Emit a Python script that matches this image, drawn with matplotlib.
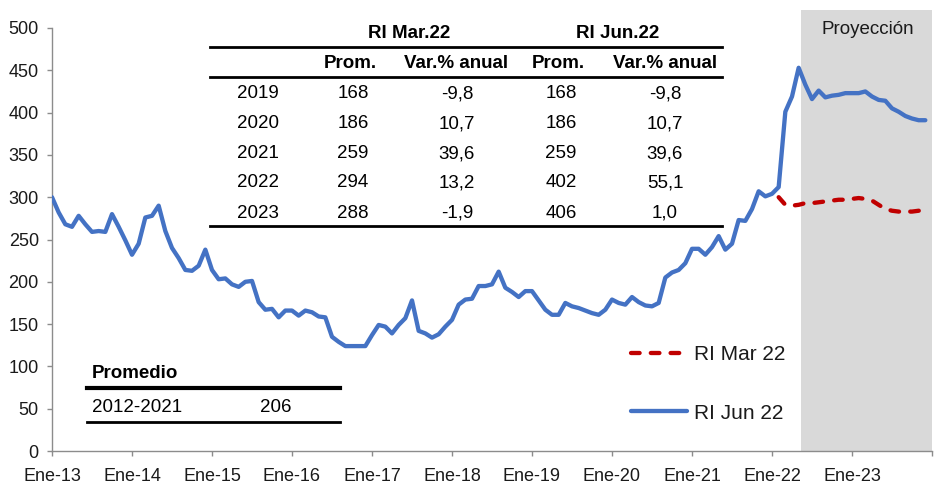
import matplotlib
matplotlib.use("Agg")
import matplotlib.pyplot as plt
from matplotlib.lines import Line2D
import numpy as np

plt.rcParams['font.family'] = ['Liberation Sans', 'DejaVu Sans']

# ---------------- data ----------------
tick_labels = ["Ene-13", "Ene-14", "Ene-15", "Ene-16", "Ene-17", "Ene-18",
               "Ene-19", "Ene-20", "Ene-21", "Ene-22", "Ene-23"]

# RI Jun 22: monthly, Jan-2013 .. Dec-2023
ri_jun = [
    300, 282, 268, 265, 278, 268, 259, 260, 259, 280, 265, 249,   # 2013
    232, 245, 276, 278, 290, 260, 240, 228, 214, 213, 219, 238,   # 2014
    214, 203, 204, 197, 194, 200, 201, 176, 167, 168, 158, 166,   # 2015
    166, 160, 166, 164, 159, 158, 135, 129, 124, 124, 124, 124,   # 2016
    137, 149, 147, 139, 149, 157, 178, 142, 139, 134, 138, 147,   # 2017
    155, 173, 179, 180, 195, 195, 197, 212, 193, 188, 182, 189,   # 2018
    189, 178, 167, 161, 161, 175, 171, 169, 166, 163, 161, 167,   # 2019
    179, 175, 173, 182, 176, 172, 171, 175, 205, 211, 214, 222,   # 2020
    239, 239, 232, 241, 254, 238, 245, 273, 272, 286, 307, 301,   # 2021
    304, 312, 401, 419, 453, 433, 416, 426, 418, 420, 421, 423,   # 2022
    423, 423, 425, 419, 415, 414, 405, 401, 396, 393, 391, 391,   # 2023
]
# RI Mar 22: projection, Feb-2022 .. Dec-2023
ri_mar_start = 109
ri_mar = [300, 291, 290, 291, 293, 293, 294, 295, 296, 297, 297,
          298, 299, 298, 296, 291, 286, 284, 283, 283, 283, 284, 285]

proj_start = 112.3   # start of projection shading (months since Jan-13)

# table
table_years = ["2019", "2020", "2021", "2022", "2023"]
mar_prom = ["168", "186", "259", "294", "288"]
mar_var = ["-9,8", "10,7", "39,6", "13,2", "-1,9"]
jun_prom = ["168", "186", "259", "402", "406"]
jun_var = ["-9,8", "10,7", "39,6", "55,1", "1,0"]
prom_period = "2012-2021"
prom_value = "206"

# ---------------- figure ----------------
W, H = 935, 483
fig = plt.figure(figsize=(W / 100, H / 100), dpi=100)
ax = fig.add_axes([52 / W, 1 - 451 / H, (932 - 52) / W, (451 - 28) / H])

def fx(px):
    return px / W

def fy(py):
    return 1 - py / H

x_jun = np.arange(len(ri_jun))
x_mar = np.arange(ri_mar_start, ri_mar_start + len(ri_mar))

ax.axvspan(proj_start, 132, ymin=0, ymax=(451 - 10) / (451 - 28),
           color='#D9D9D9', zorder=0, clip_on=False, lw=0)

blue, = ax.plot(x_jun, ri_jun, color='#4472C4', lw=3.1, zorder=3,
                solid_joinstyle='round', solid_capstyle='round', label='RI Jun 22')
red, = ax.plot(x_mar, ri_mar, color='#C00000', lw=3.1, zorder=4,
               dashes=(2.0, 2.6), dash_capstyle='round', label='RI Mar 22')

ax.set_xlim(0, 132)
ax.set_ylim(0, 500)
ax.set_yticks(np.arange(0, 501, 50))
ax.set_xticks(np.arange(0, 133, 12))
ax.set_xticklabels(tick_labels + [""])
for s in ['top', 'right']:
    ax.spines[s].set_visible(False)
for s in ['left', 'bottom']:
    ax.spines[s].set_color('#8C8C8C')
    ax.spines[s].set_linewidth(1.0)
ax.tick_params(axis='both', colors='#8C8C8C', labelcolor='#1A1A1A',
               labelsize=13, direction='out', length=3.5, width=1.0)
ax.tick_params(axis='y', pad=6)
ax.tick_params(axis='x', pad=8.5)

fig.text(fx(868), fy(30), "Proyección", ha='center', va='center',
         fontsize=13.5, color='#1A1A1A')

leg = ax.legend(handles=[red, blue], loc='upper left', frameon=False,
                bbox_to_anchor=(fx(631), fy(345)), bbox_transform=fig.transFigure,
                fontsize=15, handlelength=2.7, handletextpad=0.3,
                labelspacing=1.9, borderpad=0, borderaxespad=0)
for t in leg.get_texts():
    t.set_color('#1A1A1A')

# ---------------- table ----------------
tcol = '#000000'
fs = 13.5
def hline(y, x0, x1, lw):
    fig.add_artist(Line2D([fx(x0), fx(x1)], [fy(y), fy(y)], color='black',
                          lw=lw, transform=fig.transFigure))

fig.text(fx(409), fy(33), "RI Mar.22", ha='center', va='center', fontsize=fs,
         fontweight='bold', color=tcol)
fig.text(fx(618), fy(33), "RI Jun.22", ha='center', va='center', fontsize=fs,
         fontweight='bold', color=tcol)
hline(47, 210, 722, 2.0)
for cx, lab in [(350, "Prom."), (456, "Var.% anual"), (558, "Prom."), (665, "Var.% anual")]:
    fig.text(fx(cx), fy(63), lab, ha='center', va='center', fontsize=fs,
             fontweight='bold', color=tcol)
hline(77, 210, 722, 2.0)
row_y = [94, 124, 154, 183, 213]
for i, yy in enumerate(row_y):
    for cx, col in [(258, table_years), (353, mar_prom), (457, mar_var),
                    (561, jun_prom), (665, jun_var)]:
        fig.text(fx(cx), fy(yy), col[i], ha='center', va='center', fontsize=fs,
                 color=tcol)
hline(226, 210, 722, 2.0)

# Promedio box
fig.text(fx(92), fy(373), "Promedio", ha='left', va='center', fontsize=fs,
         fontweight='bold', color=tcol)
hline(388, 87, 340, 3.0)
fig.text(fx(92), fy(407), prom_period, ha='left', va='center', fontsize=fs, color=tcol)
fig.text(fx(276), fy(407), prom_value, ha='center', va='center', fontsize=fs, color=tcol)
hline(422, 87, 340, 2.0)

fig.savefig("out.png", dpi=100)
